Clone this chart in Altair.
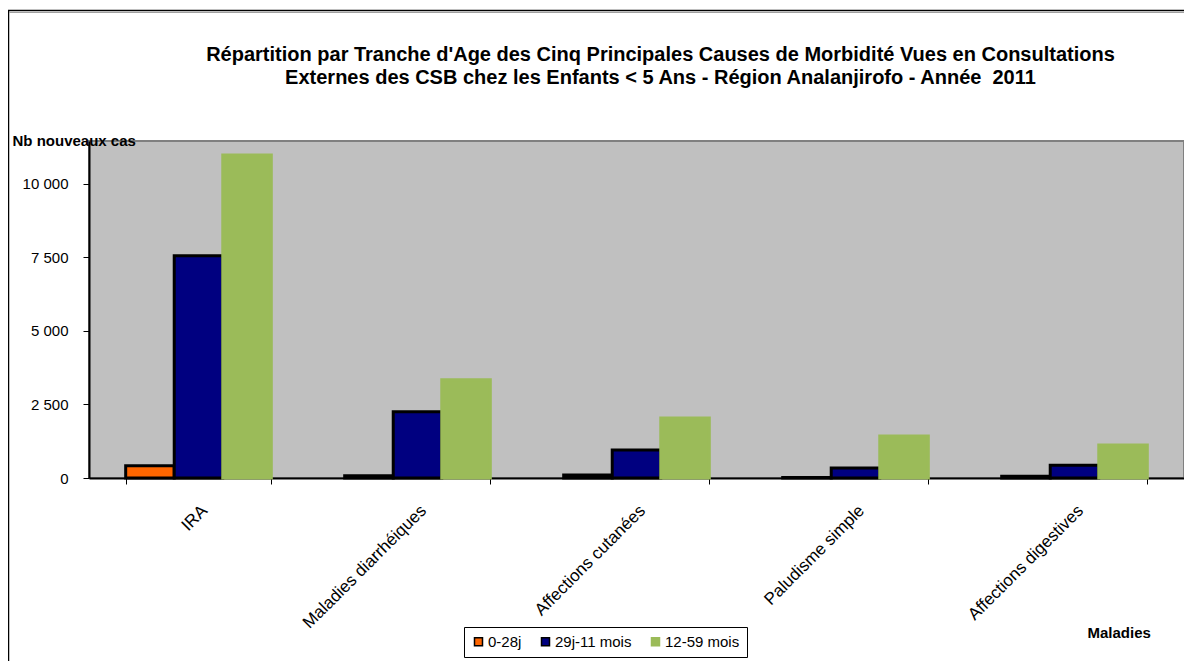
import altair as alt
import pandas as pd

categories = ["IRA", "Maladies diarrhéiques", "Affections cutanées", "Paludisme simple", "Affections digestives"]
series = ["0-28j", "29j-11 mois", "12-59 mois"]
v_0_28j = [420, 80, 100, 15, 60]
v_29j_11m = [7560, 2250, 950, 340, 430]
v_12_59m = [10980, 3340, 2040, 1430, 1120]
y_ticks = [0, 2500, 5000, 7500, 10000]
colors = ["#FF6600", "#000080", "#9BBB59"]
strokes = ["#000000", "#000000", "#9BBB59"]

rows = []
for s, vals in zip(series, [v_0_28j, v_29j_11m, v_12_59m]):
    for c, v in zip(categories, vals):
        rows.append({"Maladie": c, "Tranche": s, "Cas": v})
df = pd.DataFrame(rows)

FONT = "Liberation Sans"

legend = alt.Legend(
    title=None, orient="none", legendX=375, legendY=486, direction="horizontal",
    strokeColor="black", padding=7, labelFontSize=15, labelFont=FONT, labelColor="black",
    symbolType="square", symbolSize=64, labelOffset=2, columnPadding=16, fillColor="white",
)

bars = alt.Chart(df).mark_bar(strokeWidth=3, strokeJoin="miter").encode(
    x=alt.X("Maladie:N", sort=categories,
            scale=alt.Scale(paddingInner=0.335, paddingOuter=0.1675),
            axis=alt.Axis(title="Maladies", labelAngle=-45, labelFontSize=17, labelFont=FONT,
                          labelColor="black", tickBand="extent", tickColor="black", tickSize=6,
                          domainColor="black", domainWidth=2, labelPadding=18,
                          titleFont=FONT, titleFontSize=15, titleFontWeight="bold",
                          titleX=998, titleY=154, titleAlign="left", titleBaseline="middle",
                          titleColor="black")),
    xOffset=alt.XOffset("Tranche:N", sort=series, scale=alt.Scale(paddingInner=0, paddingOuter=0)),
    y=alt.Y("Cas:Q", scale=alt.Scale(domain=[0, 11460], nice=False),
            axis=alt.Axis(title="Nb nouveaux cas", values=y_ticks, grid=False,
                          labelExpr="replace(format(datum.value, ','), ',', ' ')",
                          labelFontSize=15, labelFont=FONT, labelColor="black", labelPadding=15,
                          tickColor="black", tickSize=6, domainColor="black", domainWidth=2,
                          titleAngle=0, titleX=-77, titleY=-1, titleAlign="left",
                          titleBaseline="middle", titleFont=FONT, titleFontSize=15,
                          titleFontWeight="bold", titleColor="black")),
    color=alt.Color("Tranche:N", sort=series, scale=alt.Scale(domain=series, range=colors), legend=legend),
    stroke=alt.Stroke("Tranche:N", sort=series, scale=alt.Scale(domain=series, range=strokes), legend=legend),
)

# decorative outer frame of the chart area
frame_df = pd.DataFrame({"k": [0]})
frame_left = alt.Chart(frame_df).mark_rule(color="black", strokeWidth=1.5).encode(
    x=alt.value(-80.5), y=alt.value(-131), y2=alt.value(530))
frame_top = alt.Chart(frame_df).mark_rule(color="black", strokeWidth=1.5).encode(
    x=alt.value(-81), x2=alt.value(1100), y=alt.value(-130.5))
frame_top2 = alt.Chart(frame_df).mark_rule(color="#A0A0A0", strokeWidth=1).encode(
    x=alt.value(-80), x2=alt.value(1100), y=alt.value(-128.5))

chart = alt.layer(bars, frame_left, frame_top, frame_top2).properties(
    width=1095, height=337,
    background="white",
    autosize=alt.AutoSizeParams(type="none"),
    padding={"left": 81, "top": 133, "right": 0, "bottom": 183},
    title=alt.Title(
        ["Répartition par Tranche d'Age des Cinq Principales Causes de Morbidité Vues en Consultations",
         "Externes des CSB chez les Enfants < 5 Ans - Région Analanjirofo - Année\u00a0 2011"],
        font=FONT, fontSize=20, fontWeight="bold", color="black", anchor="middle",
        frame="group", dx=24, offset=-79, lineHeight=23,
    ),
).configure_view(fill="#C0C0C0", stroke="#808080", strokeWidth=2)

chart.save("out.html", embed_options={"renderer": "svg", "actions": False})
